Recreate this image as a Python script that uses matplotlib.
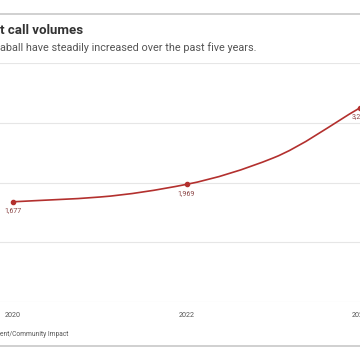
import numpy as np
import matplotlib
matplotlib.use("Agg")
import matplotlib.pyplot as plt
from matplotlib.lines import Line2D
from matplotlib.path import Path
from matplotlib.patches import PathPatch

years = [2020, 2021, 2022, 2023, 2024]
calls = [1677, 1757, 1969, 2411, 3250]
tick_years = [2020, 2022, 2024]
y_grid = [0, 1000, 2000, 3000, 4000]

title = "t call volumes"
subtitle = "aball have steadily increased over the past five years."
source = "ent/Community Impact"

red = "#b3302e"
plt.rcParams['font.family'] = ['Roboto', 'DejaVu Sans']


def monotone_path(x, y):
    # monotone cubic (Fritsch-Carlson) as bezier segments
    x = np.asarray(x, float)
    y = np.asarray(y, float)
    h = np.diff(x)
    d = np.diff(y) / h
    m = np.zeros_like(y)
    m[0], m[-1] = d[0], d[-1]
    for i in range(1, len(y) - 1):
        if d[i - 1] * d[i] > 0:
            m[i] = 2 / (1 / d[i - 1] + 1 / d[i])
    verts = [(x[0], y[0])]
    codes = [Path.MOVETO]
    for i in range(len(h)):
        verts += [(x[i] + h[i] / 3, y[i] + m[i] * h[i] / 3),
                  (x[i + 1] - h[i] / 3, y[i + 1] - m[i + 1] * h[i] / 3),
                  (x[i + 1], y[i + 1])]
        codes += [Path.CURVE4] * 3
    return Path(verts, codes)


fig = plt.figure(figsize=(3.6, 3.6), dpi=100)
ax = fig.add_axes([0, 1 - 302 / 360, 1, (302 - 63) / 360])

ax.add_patch(PathPatch(monotone_path(years, calls), fill=False, edgecolor=red,
                       lw=1.2, zorder=3, clip_on=False))
mk = [(x, v) for x, v in zip(years, calls) if x in tick_years]
ax.plot([p[0] for p in mk], [p[1] for p in mk], 'o', color=red, ms=3,
        clip_on=False, zorder=4)
for x, v in mk:
    ax.annotate(f"{v:,}", (x, v), xytext=(0, -6.5), textcoords='offset points',
                ha='center', va='center', fontsize=5, color='#8a4444')

ax.set_xlim(2019.85, 2024.0)
ax.set_ylim(0, 4000)
ax.set_yticks(y_grid)
ax.set_xticks(tick_years)
ax.set_xticklabels([str(y) for y in tick_years])
ax.tick_params(axis='x', length=0, labelsize=5.2, labelcolor='#555555', pad=7)
ax.tick_params(axis='y', length=0, labelleft=False)
ax.grid(axis='y', color='#e6e6e6', lw=0.8)
for s in ax.spines.values():
    s.set_visible(False)

fig.add_artist(Line2D([0, 1], [1 - 14 / 360] * 2, color='#c8c8c8', lw=1.2))
fig.add_artist(Line2D([0, 1], [1 - 346 / 360] * 2, color='#c8c8c8', lw=1.2))
fig.text(0.0, 1 - 31 / 360, title, fontsize=9.5, fontweight='bold', color='#333333',
         ha='left', va='center')
fig.text(0.0, 1 - 48 / 360, subtitle, fontsize=7.8, color='#555555',
         ha='left', va='center')
fig.text(0.0, 1 - 334 / 360, source, fontsize=4.8, color='#555555',
         ha='left', va='center')

fig.savefig("out.png", dpi=100)
